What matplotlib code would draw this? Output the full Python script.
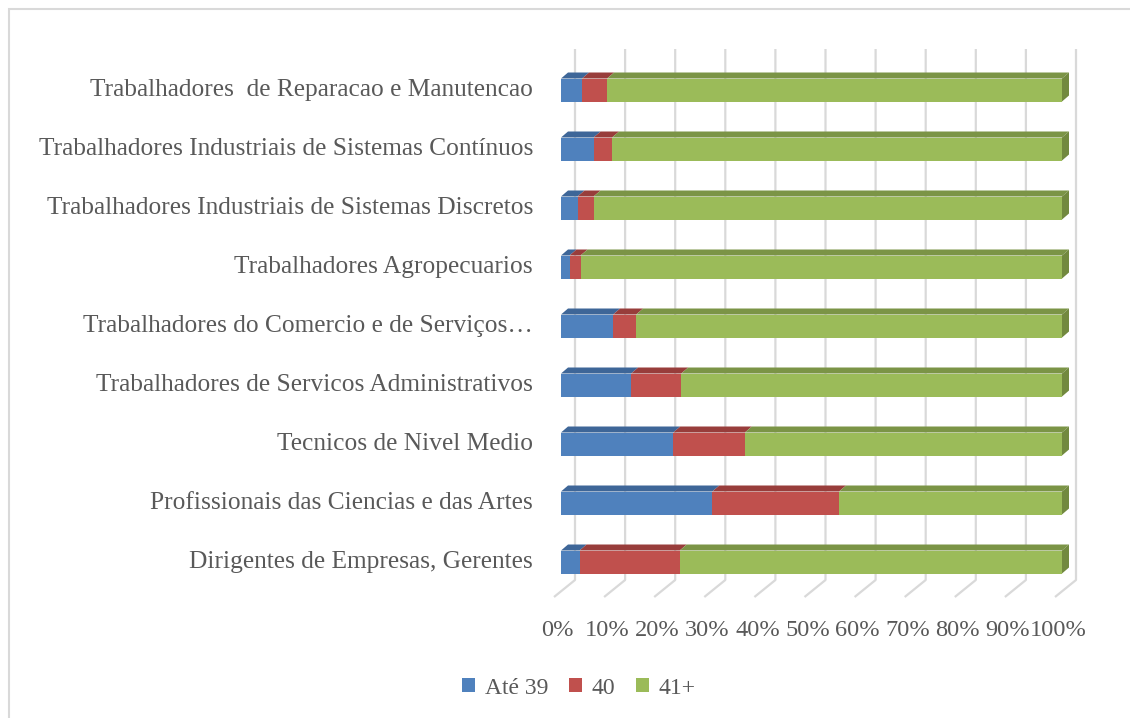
import matplotlib
matplotlib.use("Agg")
import matplotlib.pyplot as plt
from matplotlib.patches import Polygon, Patch, Rectangle

categories = [
    "Dirigentes de Empresas, Gerentes",
    "Profissionais das Ciencias e das Artes",
    "Tecnicos de Nivel Medio",
    "Trabalhadores de Servicos Administrativos",
    "Trabalhadores do Comercio e de Serviços…",
    "Trabalhadores Agropecuarios",
    "Trabalhadores Industriais de Sistemas Discretos",
    "Trabalhadores Industriais de Sistemas Contínuos",
    "Trabalhadores  de Reparacao e Manutencao",
]
ate39 = [3.7, 30.2, 22.4, 14.0, 10.4, 1.7, 3.3, 6.5, 4.2]
v40 = [20.0, 25.3, 14.3, 10.0, 4.6, 2.2, 3.2, 3.7, 5.0]
v41 = [76.3, 44.5, 63.3, 76.0, 85.0, 96.1, 93.5, 89.8, 90.8]
series_names = ["Até 39", "40", "41+"]
tick_labels = ["0%", "10%", "20%", "30%", "40%", "50%", "60%", "70%", "80%", "90%", "100%"]

front = ["#4F81BD", "#C0504D", "#9BBB59"]
top = ["#3E6698", "#983D3B", "#7B9446"]
side = "#72893F"
grid_c = "#D9D9D9"
text_c = "#595959"
FONT = "Liberation Serif"

W, H = 1130, 718
fig = plt.figure(figsize=(W / 100, H / 100), dpi=100)
fig.patch.set_facecolor("white")

# chart border (left / top visible)
fig.patches.append(Rectangle((8.5 / W, -0.1), 1.2, (H - 9.5) / H + 0.1, transform=fig.transFigure,
                             fill=False, edgecolor="#D9D9D9", lw=1.5))

ax = fig.add_axes([561 / W, (H - 591.5) / H, 501 / W, 531 / H])
ax.set_xlim(0, 100)
ax.set_ylim(-0.5, 8.5)
ax.axis("off")

px_x = 100 / 501.0   # data units per pixel in x
px_y = 9 / 531.0     # data units per pixel in y
dx, dy = 7 * px_x, 6 * px_y
back = 14 * px_x
fl = -7 * px_x

# gridlines (back wall + floor)
y_top = 8.5 + (60.5 - 49) * px_y
y_wall = -0.5 - (580 - 591.5) * px_y
y_floor = -0.5 - (597 - 591.5) * px_y
for i in range(11):
    x = i * 10
    ax.plot([x + back, x + back, x + fl], [y_top, y_wall, y_floor], color=grid_c, lw=1.6,
            zorder=0, clip_on=False, solid_capstyle="butt")
    ax.text(x + fl + 3 * px_x, -0.5 - (631 - 591.5) * px_y, tick_labels[i], ha="center", va="center",
            fontsize=17.6, color=text_c, family=FONT, clip_on=False)

h = 23 * px_y / 2
ys = list(range(len(categories)))
data = [ate39, v40, v41]
for k in range(len(ys)):
    c = ys[k]
    left = 0.0
    for s in range(3):
        w = data[s][k]
        ax.barh(c, w, left=left, height=2 * h, color=front[s], edgecolor="none", zorder=2)
        ax.add_patch(Polygon([(left, c + h), (left + w, c + h), (left + w + dx, c + h + dy),
                              (left + dx, c + h + dy)], closed=True, facecolor=top[s],
                             edgecolor="none", zorder=1.5, clip_on=False))
        left += w
    ax.add_patch(Polygon([(left, c - h), (left, c + h), (left + dx, c + h + dy), (left + dx, c - h + dy)],
                         closed=True, facecolor=side, edgecolor="none", zorder=1.5, clip_on=False))
    ax.text(-28 * px_x, c, categories[k], ha="right", va="center", fontsize=18.3,
            color=text_c, family=FONT, clip_on=False)

handles = [Patch(facecolor=front[s], edgecolor="none") for s in range(3)]
fig.legend(handles, series_names, loc="center", bbox_to_anchor=(579 / W, (H - 688) / H), ncol=3,
           frameon=False, handlelength=0.55, handleheight=0.55, handletextpad=0.4, columnspacing=0.9,
           prop={"family": FONT, "size": 17}, labelcolor=text_c)

fig.savefig("out.png", dpi=100, facecolor="white")
